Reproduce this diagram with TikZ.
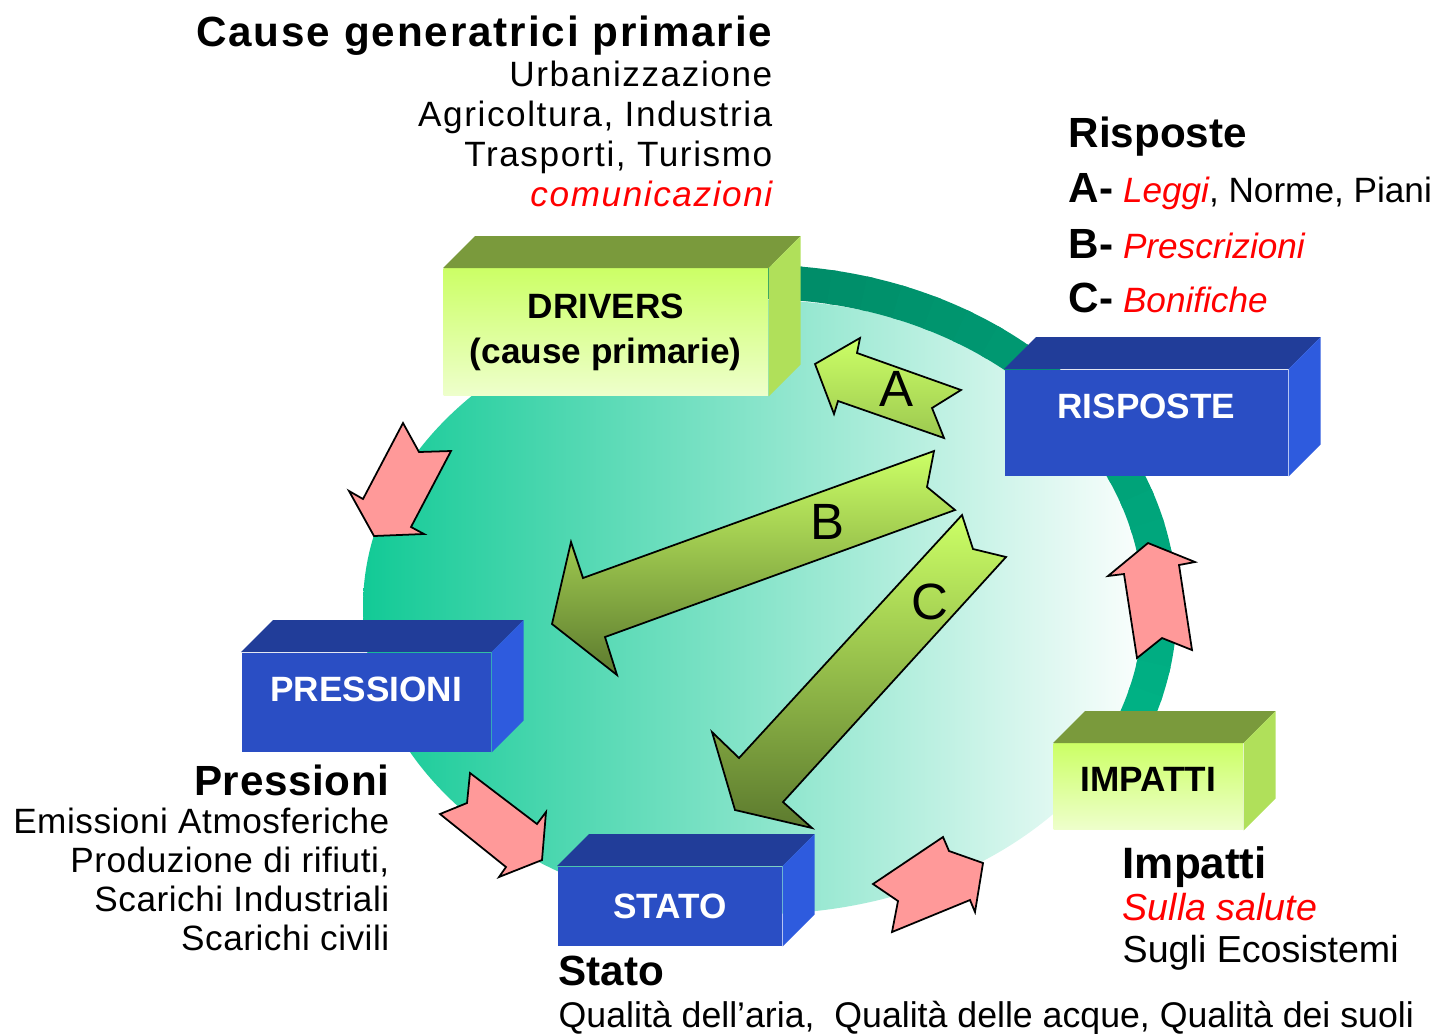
\documentclass[tikz,border=0pt]{standalone}
\usepackage{fontspec}
\setmainfont{Liberation Sans}
\newfontfamily\widefont[LetterSpace=4.5]{Liberation Sans}
\newfontfamily\loosefont[LetterSpace=1.5]{Liberation Sans}
\usepackage{tikz}
\definecolor{ringdark}{HTML}{008A66}
\definecolor{ringlight}{HTML}{00B386}
\definecolor{tealfill}{HTML}{12CA96}
\definecolor{limehi}{HTML}{CCFF66}
\definecolor{limelo}{HTML}{EEFFCC}
\definecolor{limetop}{HTML}{7A9A3C}
\definecolor{limeside}{HTML}{B0E05A}
\definecolor{bluefront}{HTML}{2A4EC4}
\definecolor{bluetop}{HTML}{213D99}
\definecolor{blueside}{HTML}{2E5BDE}
\definecolor{pinkfill}{HTML}{FF9999}
\definecolor{olivedark}{HTML}{5C7A2E}
\definecolor{olivemid}{HTML}{9CC850}
\tikzset{
  greenbox/.style={anchor=north west, inner sep=0pt, top color=limehi, bottom color=limelo, font=\bfseries\fontsize{10}{12.8}\selectfont, align=center},
  bluebox/.style={anchor=north west, inner sep=0pt, fill=bluefront, text=white, font=\bfseries\fontsize{10}{12.8}\selectfont},
  pinkarrow/.style={draw=black, fill=pinkfill, line width=0.5pt},
  greenarrow/.style={draw=black, top color=limehi, bottom color=olivedark, line width=0.5pt},
  heading/.style={inner sep=0pt, font=\bfseries\fontsize{12}{14}\selectfont},
  bodytext/.style={inner sep=0pt, font=\fontsize{10}{12}\selectfont}
}

\begin{document}
\begin{tikzpicture}[x=0.01cm, y=-0.01cm]
  \useasboundingbox (0,0) rectangle (1434,1033);

  \shade[left color=tealfill, right color=white] (760,607) ellipse [x radius=397, y radius=307];
  \foreach \a in {-95,-90,...,20} {
    \pgfmathtruncatemacro\p{(\a+95)/115*100}
    \draw[line width=0.34cm, color=ringlight!\p!ringdark] (760,607) ++(\a:400 and 325) arc[start angle=\a, end angle=\a+6, x radius=400, y radius=325];
  }

  \node[greenbox, minimum width=3.24cm, minimum height=1.27cm] (drivers) at (443,268) {DRIVERS\\(cause primarie)};
  \node[bluebox, minimum width=2.83cm, minimum height=1.06cm, text depth=0.34cm] (risposte) at (1004,369) {RISPOSTE};
  \node[greenbox, minimum width=1.89cm, minimum height=0.86cm, text depth=0.14cm] (impatti) at (1053,743) {IMPATTI};
  \node[bluebox, minimum width=2.49cm, minimum height=0.99cm, text depth=0.26cm] (pressioni) at (241,652) {PRESSIONI};
  \node[bluebox, minimum width=2.24cm, minimum height=0.79cm] (stato) at (557,866) {STATO};
  \foreach \b/\t/\s in {drivers/limetop/limeside, risposte/bluetop/blueside, impatti/limetop/limeside, pressioni/bluetop/blueside, stato/bluetop/blueside} {
    \fill[\t] (\b.north west) -- +(32,-32) -- ([shift={(32,-32)}]\b.north east) -- (\b.north east) -- cycle;
    \fill[\s] (\b.north east) -- +(32,-32) -- ([shift={(32,-32)}]\b.south east) -- (\b.south east) -- cycle;
  }

  \draw[greenarrow, bottom color=olivemid] (860,338) -- (857,353) -- (961,390) -- (932,408) -- (944,438) -- (838,401) -- (834,414) -- (815,364) -- cycle;
  \draw[greenarrow] (934,451) -- (927,487) -- (955,510) -- (605,637) -- (617,675) -- (552,624) -- (571,542) -- (583,578) -- cycle;
  \draw[greenarrow] (962,515) -- (973,549) -- (1006,557) -- (783,802) -- (812,828) -- (735,810) -- (712,732) -- (739,758) -- cycle;
  \node[font=\fontsize{14.5}{17}\selectfont] (labelA) at (896,389) {A};
  \node[font=\fontsize{14.5}{17}\selectfont] (labelB) at (827,522) {B};
  \node[font=\fontsize{14.5}{17}\selectfont] (labelC) at (930,602) {C};

  \draw[pinkarrow] (403,423) -- (419,452) -- (451,451) -- (411,527) -- (424,534) -- (374,536) -- (349,491) -- (363,499) -- cycle;
  \draw[pinkarrow] (470,773) -- (537,824) -- (546,812) -- (542,860) -- (499,877) -- (506,867) -- (440,814) -- (467,803) -- cycle;
  \draw[pinkarrow] (943,837) -- (949,851) -- (983,863) -- (975,912) -- (970,900) -- (892,932) -- (898,901) -- (873,884) -- cycle;
  \draw[pinkarrow] (1148,543) -- (1195,562) -- (1179,565) -- (1192,650) -- (1162,638) -- (1137,658) -- (1124,574) -- (1108,576) -- cycle;

  \node[heading, anchor=base east, font=\widefont\bfseries\fontsize{12}{14}\selectfont] (causehead) at (773,46) {Cause generatrici primarie};
  \node[bodytext, anchor=north east, align=right, font=\widefont\fontsize{10}{11.4}\selectfont] (causelist) at (773,60) {Urbanizzazione\\Agricoltura, Industria\\Trasporti, Turismo\\\textcolor{red}{\itshape comunicazioni}};

  \node[heading, anchor=base west] (risphead) at (1068,147) {Risposte};
  \node[bodytext, anchor=base west] (rispA) at (1068,202) {{\bfseries\fontsize{12}{14}\selectfont A-} \textcolor{red}{\itshape Leggi}, Norme, Piani};
  \node[bodytext, anchor=base west] (rispB) at (1068,258) {{\bfseries\fontsize{12}{14}\selectfont B-} \textcolor{red}{\itshape Prescrizioni}};
  \node[bodytext, anchor=base west] (rispC) at (1068,312) {{\bfseries\fontsize{12}{14}\selectfont C-} \textcolor{red}{\itshape Bonifiche}};

  \node[heading, anchor=base east, font=\loosefont\bfseries\fontsize{12}{14}\selectfont] (presshead) at (390,795) {Pressioni};
  \node[bodytext, anchor=north east, align=right, font=\loosefont\fontsize{10}{11.1}\selectfont] (presslist) at (390,807) {Emissioni Atmosferiche\\Produzione di rifiuti,\\Scarichi Industriali\\Scarichi civili};

  \node[heading, anchor=base west] (statohead) at (558,985) {Stato};
  \node[bodytext, anchor=base west, font=\fontsize{10.15}{12}\selectfont] (statolist) at (558,1027) {Qualità dell’aria, \ Qualità delle acque, Qualità dei suoli};

  \node[heading, anchor=base west, font=\bfseries\fontsize{12.5}{14}\selectfont] (impahead) at (1122,878) {Impatti};
  \node[bodytext, anchor=north west, align=left, font=\fontsize{10.7}{11.9}\selectfont] (impalist) at (1122,893) {\textcolor{red}{\itshape Sulla salute}\\Sugli Ecosistemi};
\end{tikzpicture}
\end{document}
